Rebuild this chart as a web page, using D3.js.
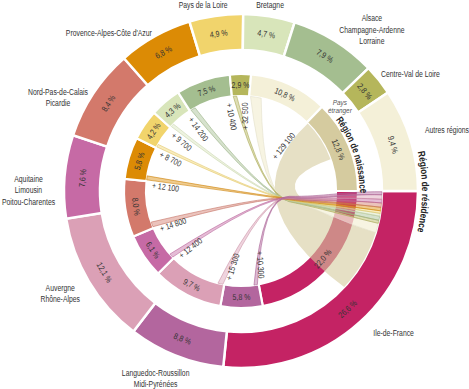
<!DOCTYPE html>
<html><head><meta charset="utf-8">
<script src="https://cdn.jsdelivr.net/npm/d3@7"></script>
<style>
html,body{margin:0;padding:0;background:#fff;}
svg{display:block;}
text{font-family:"Liberation Sans","Arial",sans-serif;}
</style></head><body>
<svg id="chart" width="469" height="389"></svg>
<script>
// ---------- data ----------
const regions = [
  "Ile-de-France",
  "Languedoc-Roussillon\nMidi-Pyrénées",
  "Auvergne\nRhône-Alpes",
  "Aquitaine\nLimousin\nPoitou-Charentes",
  "Nord-Pas-de-Calais\nPicardie",
  "Provence-Alpes-Côte d'Azur",
  "Pays de la Loire",
  "Bretagne",
  "Alsace\nChampagne-Ardenne\nLorraine",
  "Centre-Val de Loire",
  "Autres régions"
];
const residenceShare = [26.6, 8.8, 12.1, 7.6, 8.4, 6.8, 4.9, 4.7, 7.9, 2.8, 9.4];
const birthCategories = [...regions, "Pays\nétranger"];
const birthShare = [22.0, 5.8, 9.7, 6.1, 8.0, 5.8, 4.2, 4.3, 7.5, 2.9, 10.8, 12.8];
const flowSources = [1, 2, 3, 4, 5, 6, 7, 8, 9, 10, 11]; // index into birthCategories; all flows go to Ile-de-France
const flowValues = [10300, 15300, 12400, 14800, 12100, 8700, 9700, 14200, 10400, 32500, 129100];
const colors = ["#C42364", "#B3669E", "#DBA0B6", "#C66AA5", "#D3796B", "#DC8B05",
                "#F1D46C", "#D8E5BA", "#A4BE90", "#B5B65B", "#F4F0D8", "#D5CB9F"];
// placement of region names (angle in degrees clockwise from top, radius, anchor)
const nameLayout = [
  [136.9, 193.6, "start"], [204.5, 205.8, "middle"], [240.4, 207.9, "middle"],
  [270.2, 212.5, "middle"], [297.1, 205.6, "middle"], [320.1, 206, "middle"],
  [348.5, 190, "middle"], [8.9, 188, "middle"], [39, 208, "middle"],
  [50.1, 182.6, "start"], [71.6, 193.9, "start"]
];

// ---------- layout ----------
const cx = 241, cy = 191;
const R = {in0: 95, in1: 117, out0: 141, out1: 177};
const deg = Math.PI / 180;
const fr = d3.formatLocale({decimal: ",", thousands: "\u00a0", grouping: [3], currency: ["", " €"]});
const pct = v => fr.format(".1f")(v) + " %";
const num = v => "+ " + fr.format(",")(v);

const svg = d3.select("#chart");
const g = svg.append("g").attr("transform", `translate(${cx},${cy})`);
const pt = (r, a) => [r * Math.sin(a), -r * Math.cos(a)];

function stack(values) {
  const total = d3.sum(values);
  const ang = d3.scaleLinear().domain([0, total]).range([Math.PI / 2, Math.PI / 2 + 2 * Math.PI]);
  let c = 0;
  return values.map(v => { const s = c; c += v; return {start: ang(s), end: ang(c), value: v}; });
}
const outerSegs = stack(residenceShare).map((d, i) => ({...d, name: regions[i], color: colors[i]}));
const innerSegs = stack(birthShare).map((d, i) => ({...d, name: birthCategories[i], color: colors[i]}));

const outerArc = d3.arc().innerRadius(R.out0).outerRadius(R.out1);
const innerArc = d3.arc().innerRadius(R.in0).outerRadius(R.in1);

g.append("g").selectAll("path").data(innerSegs).join("path")
  .attr("d", d => innerArc({startAngle: d.start, endAngle: d.end}))
  .attr("fill", d => d.color).attr("stroke", "#fff").attr("stroke-width", 2.2);
g.append("g").selectAll("path").data(outerSegs).join("path")
  .attr("d", d => outerArc({startAngle: d.start, endAngle: d.end}))
  .attr("fill", d => d.color).attr("stroke", "#fff").attr("stroke-width", 2.5);

// ---------- ribbons ----------
const srcW = d3.scaleLinear().domain([0, 1000]).range([0, 0.2 * deg]);
const tgtW = d3.scaleLinear().domain([0, 1000]).range([0, 0.12 * deg]);
const HUB = pt(49, 100 * deg), MID = pt(22, 103 * deg);

function hubEdge(a, b, o) {
  const S = pt(R.in0, a), T = pt(R.out0, b);
  const Hp = [HUB[0], HUB[1] + o];
  const c1 = [Hp[0] + (Hp[0] - MID[0]) * 1.3, Hp[1] + (Hp[1] - MID[1]) * 1.3];
  const u = [Math.sin(b), -Math.cos(b)];
  const c2 = [T[0] - u[0] * 40, T[1] - u[1] * 40];
  return {S, Hp, c1, c2, T};
}
function hubRibbon(a0, a1, b0, b1, oy) {
  const e1 = hubEdge(a1, b0, oy - 0.7), e0 = hubEdge(a0, b1, oy + 0.7);
  const p = d3.path();
  const S0 = pt(R.in0, a0);
  p.moveTo(S0[0], S0[1]);
  p.arc(0, 0, R.in0, a0 - Math.PI / 2, a1 - Math.PI / 2, false);
  p.quadraticCurveTo(MID[0], MID[1], e1.Hp[0], e1.Hp[1]);
  p.bezierCurveTo(e1.c1[0], e1.c1[1], e1.c2[0], e1.c2[1], e1.T[0], e1.T[1]);
  p.arc(0, 0, R.out0, b0 - Math.PI / 2, b1 - Math.PI / 2, false);
  p.bezierCurveTo(e0.c2[0], e0.c2[1], e0.c1[0], e0.c1[1], e0.Hp[0], e0.Hp[1]);
  p.quadraticCurveTo(MID[0], MID[1], S0[0], S0[1]);
  p.closePath();
  return p.toString();
}
function centreRibbon(a0, a1, b0, b1) {
  const p = d3.path();
  const S0 = pt(R.in0, a0), T0 = pt(R.out0, b0);
  p.moveTo(S0[0], S0[1]);
  p.arc(0, 0, R.in0, a0 - Math.PI / 2, a1 - Math.PI / 2, false);
  p.quadraticCurveTo(0, 0, T0[0], T0[1]);
  p.arc(0, 0, R.out0, b0 - Math.PI / 2, b1 - Math.PI / 2, false);
  p.quadraticCurveTo(-14, 8, S0[0], S0[1]);
  p.closePath();
  return p.toString();
}

let bCursor = Math.PI / 2 + 0.3 * deg;
const flows = flowValues.map((v, i) => {
  const seg = innerSegs[flowSources[i]];
  const big = v > 100000;
  const a0 = seg.start + 0.8 * deg, a1 = a0 + srcW(v);
  const b0 = bCursor, b1 = bCursor + (big ? srcW(v) : tgtW(v));
  bCursor = b1;
  return {v, i, seg, a0, a1, b0, b1, color: seg.color, big};
});

const rib = g.append("g");
flows.filter(f => f.big).forEach(f => {
  rib.append("path").attr("d", centreRibbon(f.a0, f.a1, f.b0, f.b1))
    .attr("fill", f.color).attr("fill-opacity", 0.6);
});
flows.filter(f => !f.big).slice().reverse().forEach(f => {
  rib.append("path").attr("d", hubRibbon(f.a0, f.a1, f.b0, f.b1, (f.i - 5) * 0.5))
    .attr("fill", f.color).attr("fill-opacity", f.i === 9 ? 0.75 : 0.45)
    .attr("stroke", d3.color(f.color).darker(0.2)).attr("stroke-opacity", 0.85).attr("stroke-width", 0.7);
});

// ---------- text helper (condensed look) ----------
function label(parent, x, y, rot, anchor, lines, size, opts = {}) {
  const lh = opts.lh || size * 1.25;
  const sx = opts.sx || 0.82;
  const t = parent.append("text")
    .attr("transform", `translate(${x},${y}) rotate(${rot}) scale(${sx},1)`)
    .attr("text-anchor", anchor).attr("font-size", size)
    .attr("fill", opts.fill || "#333");
  if (opts.italic) t.attr("font-style", "italic");
  lines.forEach((l, k) => {
    t.append("tspan").attr("x", 0)
      .attr("y", (k - (lines.length - 1) / 2) * lh)
      .attr("dy", opts.dy || "0.35em").text(l);
  });
  return t;
}

// segment percentages
function segLabels(segs, r) {
  const lg = g.append("g");
  segs.forEach(d => {
    const m = (d.start + d.end) / 2, p = pt(r, m);
    let rot = (m / deg) % 360;
    if (rot > 90 && rot < 270) rot -= 180;
    label(lg, p[0], p[1], rot, "middle", [pct(d.value)], 8.5);
  });
}
segLabels(innerSegs, (R.in0 + R.in1) / 2);
segLabels(outerSegs, (R.out0 + R.out1) / 2);

// flow labels
const D = [MID[0] / 2, MID[1] / 2];
const fl = g.append("g");
flows.forEach(f => {
  const S = pt(R.in0, f.a0), P = pt(f.big ? 78 : 89, f.a0 + (f.big ? 1.5 * deg : 0));
  let rot = Math.atan2(D[1] - S[1], D[0] - S[0]) / deg;
  const adeg = (f.a0 / deg) % 360;
  const flip = adeg > 0 && adeg < 180;
  if (flip) rot += 180;
  label(fl, P[0], P[1], rot, flip ? "end" : "start", [num(f.v)], 8.5, {dy: flip ? "-0.25em" : "0.9em"});
});

// region names
const ng = g.append("g");
outerSegs.forEach((d, i) => {
  const [ad, r, anchor] = nameLayout[i];
  const p = pt(r, ad * deg);
  label(ng, p[0], p[1], 0, anchor, d.name.split("\n"), 9, {lh: 11.3, fill: "#333", sx: 0.76});
});

// "Pays étranger"
{
  const seg = innerSegs[11];
  const p = pt(130, 49.5 * deg);
  label(g, p[0], p[1] - 0.5, 0, "middle", seg.name.split("\n"), 7.8, {lh: 7.8, italic: true, fill: "#555", sx: 0.82});
}

// curved titles
const defs = svg.append("defs");
function arcPath(r, a0, a1) {
  const s = pt(r, a0), e = pt(r, a1);
  return `M${s[0] + cx},${s[1] + cy} A${r},${r} 0 0 1 ${e[0] + cx},${e[1] + cy}`;
}
defs.append("path").attr("id", "arcN").attr("d", arcPath(118.5, 53 * deg, 91 * deg));
defs.append("path").attr("id", "arcR").attr("d", arcPath(181, 77.5 * deg, 103 * deg));
function arcTitle(id, txt, len) {
  svg.append("text").attr("font-size", 10).attr("font-weight", "bold").attr("fill", "#222")
    .append("textPath").attr("href", "#" + id).attr("startOffset", "0")
    .attr("textLength", len).attr("lengthAdjust", "spacingAndGlyphs")
    .text(txt);
}
arcTitle("arcN", "Région de naissance", 118.5 * 38 * deg);
arcTitle("arcR", "Région de résidence", 181 * 25.5 * deg);
</script>
</body></html>
